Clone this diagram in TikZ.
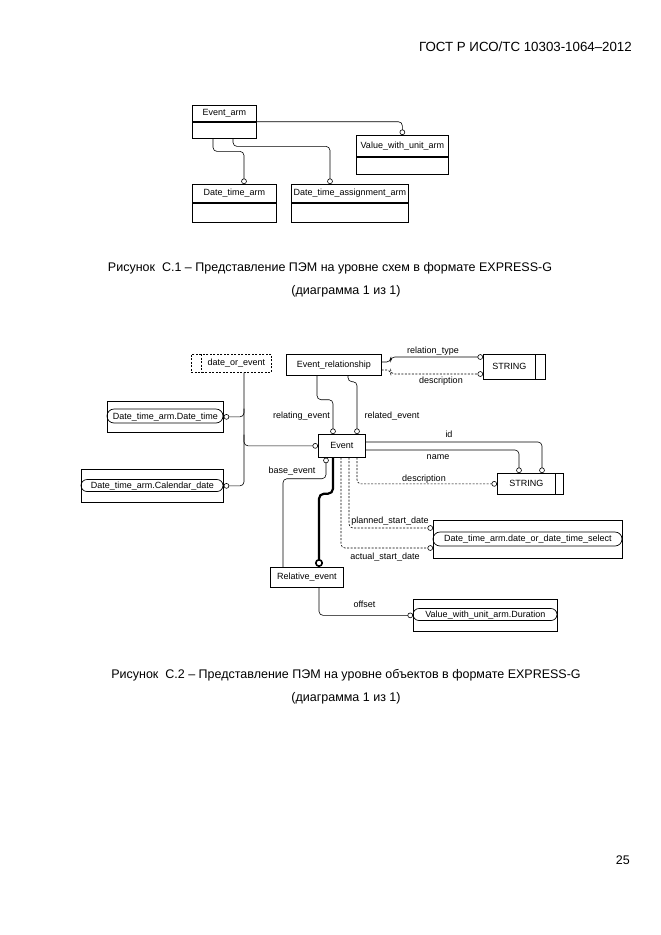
\documentclass[tikz,border=0pt]{standalone}
\usepackage{fontspec}
\setmainfont{Liberation Sans}
\usetikzlibrary{arrows.meta,calc}
\begin{document}
\begin{tikzpicture}[x=1pt,y=-1pt,
  lbl/.style={font=\fontsize{9}{10}\selectfont, inner sep=0pt},
  ent/.style={draw, line width=0.7pt, inner sep=0pt, font=\fontsize{9}{10}\selectfont, anchor=north west},
  rel/.style={line width=0.6pt, rounded corners=4pt, -{Circle[open,length=5.5pt,width=5.5pt]}},
  relp/.style={line width=0.6pt, rounded corners=4pt},
  opt/.style={rel, dashed, dash pattern=on 2pt off 1.5pt},
  captxt/.style={font=\fontsize{12.5}{14}\selectfont, inner sep=0pt}
]
\useasboundingbox (0,0) rectangle (661,935);
\node[captxt, anchor=east, font=\fontsize{13.3}{15}\selectfont] (hdr) at (632,47) {ГОСТ Р ИСО/ТС 10303-1064–2012};
\node[captxt, anchor=east] (pg) at (630,860) {25};

% ---------- Figure C.1 ----------
\node[ent, minimum width=64pt, minimum height=16pt] (ea) at (192,105) {Event\_arm};
\node[ent, minimum width=64pt, minimum height=16pt] (eab) at (ea.south west) {};
\node[ent, minimum width=92pt, minimum height=21pt] (vwu) at (356,135) {Value\_with\_unit\_arm};
\node[ent, minimum width=92pt, minimum height=17pt] (vwub) at (vwu.south west) {};
\node[ent, minimum width=84pt, minimum height=18pt] (dta) at (192,184) {Date\_time\_arm};
\node[ent, minimum width=84pt, minimum height=19pt] (dtab) at (dta.south west) {};
\node[ent, minimum width=117pt, minimum height=18pt] (dtaa) at (291,184) {Date\_time\_assignment\_arm};
\node[ent, minimum width=117pt, minimum height=19pt] (dtaab) at (dtaa.south west) {};

\draw[rel] (ea.south east) -| (vwu.north);
\draw[rel] ($(eab.south west)+(21,0)$) -- ++(0,13) -| ($(dta.north west)+(52,0)$);
\draw[rel] ($(eab.south west)+(41,0)$) -- ++(0,8) -| ($(dtaa.north west)+(39,0)$);

\node[captxt] (c1a) at (330,268) {Рисунок\ \ С.1 – Представление ПЭМ на уровне схем в формате EXPRESS-G};
\node[captxt] (c1b) at (346,291) {(диаграмма 1 из 1)};

% ---------- Figure C.2 ----------
\node[ent, dashed, dash pattern=on 2pt off 1.5pt, minimum width=80pt, minimum height=18pt] (doe) at (191,354) {};
\draw[dashed, dash pattern=on 2pt off 1.5pt, line width=0.7pt] ($(doe.north west)+(10,0)$) -- ($(doe.south west)+(10,0)$);
\node[lbl] at ($(doe.center)+(5,0)$) {date\_or\_event};

\node[ent, minimum width=95pt, minimum height=21pt] (er) at (286,354) {Event\_relationship};

\node[ent, minimum width=62pt, minimum height=25pt] (s1) at (483,354) {};
\draw[line width=0.7pt] ($(s1.north east)+(-10,0)$) -- ($(s1.south east)+(-10,0)$);
\node[lbl] at ($(s1.center)+(-5,0)$) {STRING};

\node[ent, minimum width=47pt, minimum height=23pt] (ev) at (318,434) {Event};

% Date_time_arm.Date_time
\node[ent, minimum width=116pt, minimum height=31pt] (dt) at (107,401) {};
\draw[line width=0.7pt, rounded corners=7pt] (107,409) rectangle (223,423);
\node[lbl] at (dt.center) {Date\_time\_arm.Date\_time};

% Date_time_arm.Calendar_date
\node[ent, minimum width=142pt, minimum height=33pt] (cd) at (81,469) {};
\draw[line width=0.7pt, rounded corners=6pt] (81,479.5) rectangle (223,491.5);
\node[lbl] at ($(cd.center)+(0,0)$) {Date\_time\_arm.Calendar\_date};

% STRING lower
\node[ent, minimum width=66pt, minimum height=21pt] (s2) at (497,473) {};
\draw[line width=0.7pt] ($(s2.north east)+(-8,0)$) -- ($(s2.south east)+(-8,0)$);
\node[lbl] at ($(s2.center)+(-4,0)$) {STRING};

% select
\node[ent, minimum width=189pt, minimum height=38pt] (sel) at (433,520) {};
\draw[line width=0.7pt, rounded corners=7pt] (433,532) rectangle (622,546);
\node[lbl] at (sel.center) {Date\_time\_arm.date\_or\_date\_time\_select};

\node[ent, minimum width=73pt, minimum height=20pt] (re) at (270,567) {Relative\_event};

% duration
\node[ent, minimum width=144pt, minimum height=32pt] (dur) at (413,599) {};
\draw[line width=0.7pt, rounded corners=6pt] (413,608.5) rectangle (557,620.5);
\node[lbl] at (dur.center) {Value\_with\_unit\_arm.Duration};

% connectors
\draw[rel] ($(er.north east)+(0,8)$) -- ++(9,0) |- ($(s1.north west)+(0,3)$);
\draw[opt] ($(er.north east)+(0,16)$) -- ++(9,0) |- ($(s1.north west)+(0,20)$);
\node[lbl] (l1) at (433,351) {relation\_type};
\node[lbl] (l2) at (441,381) {description};

\draw[rel] ($(er.south west)+(31,0)$) -- ++(0,24) -| ($(ev.north west)+(15,0)$);
\draw[rel] ($(er.south west)+(62,0)$) -- ++(0,6) -| ($(ev.north west)+(39,0)$);
\node[lbl] (l3) at (301.5,416) {relating\_event};
\node[lbl] (l4) at (392,416) {related\_event};

\coordinate (jt) at ($(doe.south west)+(53,0)$);
\coordinate (j1) at ($(jt)+(0,36)$);
\coordinate (j2) at ($(jt)+(0,62)$);
\draw[rel] (jt) |- (cd.east);
\draw[rel] (j1) |- (dt.east);
\draw[rel] (j2) |- (ev.west);

\draw[rel] ($(ev.north east)+(0,8)$) -| ($(s2.north west)+(45,0)$);
\draw[rel] ($(ev.north east)+(0,16)$) -| ($(s2.north west)+(22,0)$);
\draw[opt] ($(ev.south west)+(39,0)$) |- (s2.west);
\node[lbl] (l5) at (449,434) {id};
\node[lbl] (l6) at (438,457) {name};
\node[lbl] (l7) at (424,479) {description};

\draw[relp, {Circle[open,length=5.5pt,width=5.5pt]}-] ($(ev.south west)+(8,0)$) -- ++(0,21) -| ($(re.north west)+(13,0)$);
\node[lbl] (l8) at (292,471) {base\_event};
\draw[line width=2.2pt, rounded corners=5pt, -{Circle[open,length=8pt,width=8pt,line width=1.6pt]}] ($(ev.south west)+(15,0)$) -- ++(0,36) -| ($(re.north west)+(49,0)$);

\draw[opt] ($(ev.south west)+(31,0)$) |- ($(sel.north west)+(0,8)$);
\draw[opt] ($(ev.south west)+(23,0)$) |- ($(sel.north west)+(0,28)$);
\node[lbl] (l9) at (390,521) {planned\_start\_date};
\node[lbl] (l10) at (385,557) {actual\_start\_date};

\draw[rel] ($(re.south west)+(49,0)$) |- (dur.west);
\node[lbl] (l11) at (364.5,604) {offset};

\node[captxt] (c2a) at (346,675) {Рисунок\ \ С.2 – Представление ПЭМ на уровне объектов в формате EXPRESS-G};
\node[captxt] (c2b) at (346,698) {(диаграмма 1 из 1)};
\end{tikzpicture}
\end{document}
